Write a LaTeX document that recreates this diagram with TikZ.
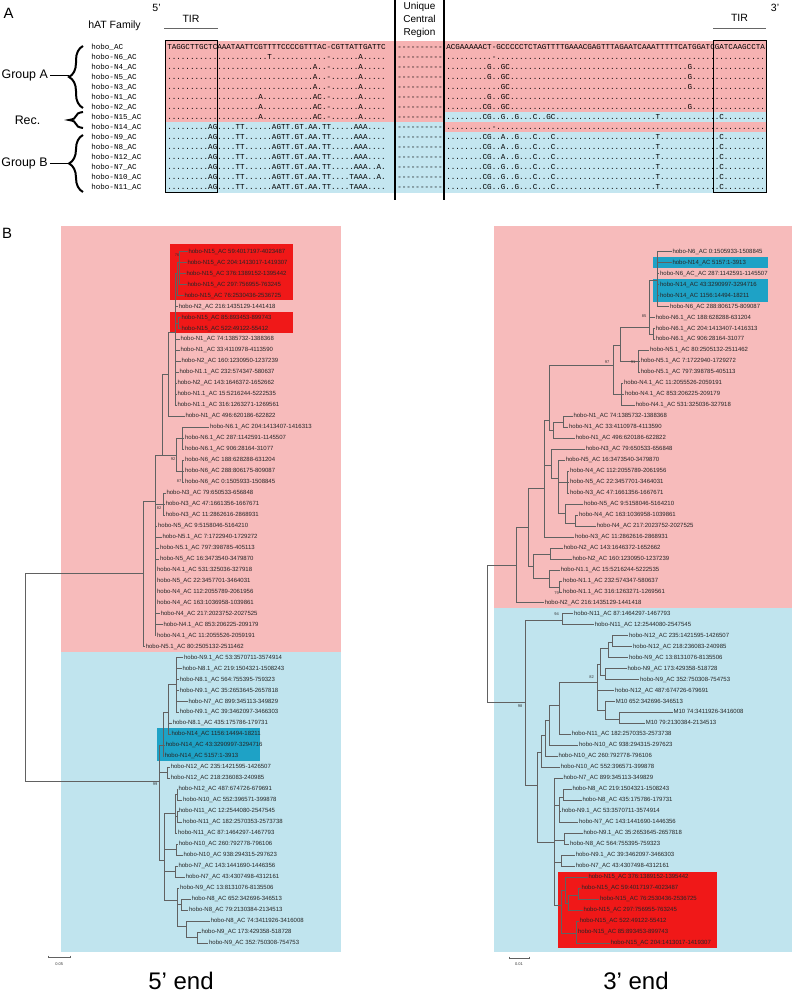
\documentclass[tikz,border=0pt]{standalone}
\usepackage{fontspec}
\setmainfont{Liberation Sans}
\setmonofont{Liberation Mono}
\usetikzlibrary{decorations.pathreplacing}
\ExplSyntaxOn
\cs_new:Npn \Dd #1 {\prg_replicate:nn{#1}{.}}
\cs_new:Npn \Dh #1 {\prg_replicate:nn{#1}{-{}}}
\ExplSyntaxOff
\definecolor{pinkA}{RGB}{246,178,178}
\definecolor{blueA}{RGB}{196,230,240}
\definecolor{pinkB}{RGB}{247,187,187}
\definecolor{blueB}{RGB}{192,228,238}
\definecolor{redhl}{RGB}{240,24,24}
\definecolor{bluehl}{RGB}{30,162,198}
\newcommand\seqf{\ttfamily\fontsize{5.69pt}{6pt}\selectfont}
\newcommand\tlf{\fontsize{4.5pt}{5pt}\selectfont}
\tikzset{
 sq/.style={anchor=base west, inner sep=0pt, font=\seqf},
 tl/.style={anchor=west, inner sep=0.4pt, font=\tlf, text=black!85, text height=3.2pt, text depth=0.9pt},
 br/.style={draw=black!62, line width=0.4pt},
 bs/.style={font=\fontsize{3pt}{3pt}\selectfont, inner sep=0pt, text=black!80},
 brc/.style={decorate, decoration={brace, amplitude=10.5pt}, line width=1.5pt},
 grp/.style={font=\fontsize{9.3pt}{11pt}\selectfont, inner sep=0pt},
 hd/.style={font=\fontsize{7.9pt}{9pt}\selectfont, inner sep=0pt},
 ttl/.style={font=\fontsize{18pt}{19pt}\selectfont, inner sep=0pt},
}
\newcommand\arow[4]{%
 \node[sq] (an#1) at (91,{50+10*#1}) {#2};
 \node[sq] (al#1) at (167,{50+10*#1}) {#3};
 \node[sq] (ac#1) at (397,{50+10*#1}) {\Dh{10}};
 \node[sq] (ar#1) at (446,{50+10*#1}) {#4};}
\newcommand\lf[5]{\coordinate (#1) at (#3,{251.7+10.97*#4}); \node[tl] (#1t) at (#1) {#5}; \draw[br] (#2) |- (#1);}
\newcommand\inn[4]{\coordinate (#1) at (#3,#4); \draw[br] (#2) |- (#1);}
\newcommand\LB{\Dd{9}AG\Dd{4}TT\Dd{6}AGTT.GT.AA.TT\Dd{5}AAA\Dd{4}}
\newcommand\RBa{\Dd{8}CG\Dd{2}A\Dd{2}G\Dd{3}C\Dd{3}C\Dd{22}T\Dd{13}C\Dd{9}}
\newcommand\RBb{\Dd{8}CG\Dd{2}G\Dd{2}G\Dd{3}C\Dd{3}C\Dd{22}T\Dd{13}C\Dd{9}}
\newcommand\LAa{\Dd{32}A\Dd{2}-\Dd{6}A\Dd{5}}
\newcommand\LAb{\Dd{20}A\Dd{11}AC\Dd{1}-\Dd{6}A\Dd{5}}
\begin{document}
\begin{tikzpicture}[x=0.75pt,y=-0.75pt]
\useasboundingbox (0,0) rectangle (792,994);
% ---------------- Panel A ----------------
\fill[pinkA] (165,41) rectangle (444,122.5);
\fill[blueA] (165,122.5) rectangle (444,193);
\fill[pinkA] (444,41) rectangle (766,112.5);
\fill[blueA] (444,112.5) rectangle (766,122.5);
\fill[pinkA] (444,122.5) rectangle (766,132.5);
\fill[blueA] (444,132.5) rectangle (766,193);

\arow{0}{hobo\_AC}{TAGGCTTGCTCAAATAATTCGTTTTCCCCGTTTAC-CGTTATTGATTC}{ACGAAAAACT-GCCCCCTCTAGTTTTGAAACGAGTTTAGAATCAAATTTTTCATGGATCGATCAAGCCTA}
\arow{1}{hobo-N6\_AC}{\Dd{22}T\Dd{12}-\Dd{6}A\Dd{5}}{\Dd{10}-\Dd{59}}
\arow{2}{hobo-N4\_AC}{\LAa}{\Dd{9}G\Dd{2}GC\Dd{39}G\Dd{16}}
\arow{3}{hobo-N5\_AC}{\LAa}{\Dd{9}G\Dd{2}GC\Dd{39}G\Dd{16}}
\arow{4}{hobo-N3\_AC}{\LAa}{\Dd{12}GC\Dd{39}G\Dd{16}}
\arow{5}{hobo-N1\_AC}{\LAb}{\Dd{9}G\Dd{2}GC\Dd{56}}
\arow{6}{hobo-N2\_AC}{\LAb}{\Dd{8}CG\Dd{2}GC\Dd{39}G\Dd{16}}
\arow{7}{hobo-N15\_AC}{\LAb}{\Dd{8}CG\Dd{2}G\Dd{2}G\Dd{3}C\Dd{2}GC\Dd{22}T\Dd{13}C\Dd{9}}
\arow{8}{hobo-N14\_AC}{\LB}{\Dd{10}-\Dd{59}}
\arow{9}{hobo-N9\_AC}{\LB}{\RBa}
\arow{10}{hobo-N8\_AC}{\LB}{\RBa}
\arow{11}{hobo-N12\_AC}{\LB}{\RBa}
\arow{12}{hobo-N7\_AC}{\Dd{9}AG\Dd{4}TT\Dd{6}AGTT.GT.AA.TT\Dd{5}AAA\Dd{2}A.}{\RBb}
\arow{13}{hobo-N10\_AC}{\Dd{9}AG\Dd{4}TT\Dd{6}AGTT.GT.AA.TT\Dd{4}TAAA\Dd{2}A.}{\RBb}
\arow{14}{hobo-N11\_AC}{\Dd{9}AG\Dd{4}TT\Dd{6}AATT.GT.AA.TT\Dd{4}TAAA\Dd{4}}{\RBb}

\draw[line width=0.75pt] (165,41) rectangle (217.5,193);
\draw[line width=0.75pt] (713,41) rectangle (766,193);
\draw[line width=0.9pt] (395,0) -- (395,200);
\draw[line width=0.9pt] (444,0) -- (444,200);

\node[font=\fontsize{11.2pt}{12pt}\selectfont, inner sep=0pt] (pA) at (8.5,13) {A};
\node[hd] (p5) at (156.5,8) {5'};
\node[hd] (p3) at (775,8) {3'};
\node[hd] (haf) at (114.5,26) {hAT Family};
\node[hd] (tirl) at (191,18.5) {TIR};
\node[hd] (tirr) at (739.5,18) {TIR};
\draw[black!60, line width=0.8pt] (164,28.5) -- (218,28.5);
\draw[black!60, line width=0.8pt] (713,28.5) -- (766,28.5);
\node[align=center, font=\fontsize{7.5pt}{9.75pt}\selectfont, inner sep=0pt] (ucr) at (419.5,20) {Unique\\Central\\Region};

\node[grp] (gA) at (24.7,75.5) {Group A};
\node[grp] (gR) at (27.5,120.5) {Rec.};
\node[grp] (gB) at (24.5,163.5) {Group B};
\draw[brc] (83,108) -- (83,46);
\draw[brc] (83,128) -- (83,112);
\draw[brc] (83,192) -- (83,135);
\coordinate (tA) at (68.5,77); \coordinate (tB) at (68.5,163.5);
\draw[line width=1.3pt] (gA.east) ++(2,0) -- (tA |- gA.east);
\draw[line width=1.3pt] (gB.east) ++(2,0) -- (tB |- gB.east);

% ---------------- Panel B ----------------
\node[font=\fontsize{11.2pt}{12pt}\selectfont, inner sep=0pt] (pB) at (7,233) {B};
\fill[pinkB] (61,226) rectangle (341,652);
\fill[blueB] (61,652) rectangle (341,952);
\fill[pinkB] (494,226) rectangle (792,608.2);
\fill[blueB] (494,608.2) rectangle (792,952);
\fill[redhl] (170,244) rectangle (293,300);
\fill[redhl] (170,312) rectangle (293,333.5);
\fill[bluehl] (157,728) rectangle (260,761);
\fill[bluehl] (653,257) rectangle (768,268.5);
\fill[bluehl] (653,279) rectangle (768,302);
\fill[redhl] (558.3,872) rectangle (716.7,948);

% ----- left tree (5' end)
\coordinate (lRoot) at (25.7,677);
\inn{lP}{lRoot}{143}{573}
\inn{lQ}{lRoot}{159}{781}
\inn{lA}{lP}{155}{501}
\inn{lB}{lA}{162}{455}
\inn{lE}{lB}{176}{455}
\inn{lE1}{lE}{182.5}{438}
\inn{lE2}{lE}{182}{471}
\inn{lN3}{lA}{163}{504}
\inn{lC}{lB}{168}{374}
\inn{lF}{lC}{175}{332}
\inn{lR}{lF}{177}{273}
\inn{lR1}{lR}{179.5}{262}
\inn{lR2}{lF}{178}{323}
\inn{lS1}{lQ}{163}{745}
\inn{lU}{lS1}{168}{712}
\inn{lU1}{lU}{176}{684}
\inn{lV}{lQ}{167}{772}
\inn{lS2}{lQ}{164}{860}
\inn{lW}{lS2}{175}{813}
\inn{lW1}{lW}{177}{794}
\inn{lW2}{lW}{177.5}{816}
\inn{lX}{lS2}{176}{849}
\inn{lY}{lS2}{175.5}{871}
\inn{lZ}{lS2}{177.5}{900}
\inn{lZ1}{lZ}{181.5}{904}
\inn{lZ2}{lZ}{186}{926}
\inn{lZ3}{lZ2}{197}{937}

\lf{lL0}{lR1}{187.7}{0}{hobo-N15\_AC 59:4017197-4023487}
\lf{lL1}{lR1}{186.7}{1}{hobo-N15\_AC 204:1413017-1419307}
\lf{lL2}{lR1}{185.7}{2}{hobo-N15\_AC 376:1389152-1395442}
\lf{lL3}{lR1}{186.7}{3}{hobo-N15\_AC 297:756955-763245}
\lf{lL4}{lR}{183.7}{4}{hobo-N15\_AC 76:2530436-2536725}
\lf{lL5}{lF}{178}{5}{hobo-N2\_AC 216:1435129-1441418}
\lf{lL6}{lR2}{180.7}{6}{hobo-N15\_AC 85:893453-899743}
\lf{lL7}{lR2}{180.7}{7}{hobo-N15\_AC 522:49122-55412}
\lf{lL8}{lF}{179.7}{8}{hobo-N1\_AC 74:1385732-1388368}
\lf{lL9}{lF}{179.7}{9}{hobo-N1\_AC 33:4110978-4113590}
\lf{lL10}{lF}{180.7}{10}{hobo-N2\_AC 160:1230950-1237239}
\lf{lL11}{lF}{178.7}{11}{hobo-N1.1\_AC 232:574347-580637}
\lf{lL12}{lF}{176.7}{12}{hobo-N2\_AC 143:1646372-1652662}
\lf{lL13}{lF}{176.7}{13}{hobo-N1.1\_AC 15:5216244-5222535}
\lf{lL14}{lF}{176.7}{14}{hobo-N1.1\_AC 316:1263271-1269561}
\lf{lL15}{lC}{184.7}{15}{hobo-N1\_AC 496:620186-622822}
\lf{lL16}{lE1}{209.3}{16}{hobo-N6.1\_AC 204:1413407-1416313}
\lf{lL17}{lE1}{184.3}{17}{hobo-N6.1\_AC 287:1142591-1145507}
\lf{lL18}{lE1}{184.3}{18}{hobo-N6.1\_AC 906:28164-31077}
\lf{lL19}{lE2}{184.3}{19}{hobo-N6\_AC 188:628288-631204}
\lf{lL20}{lE2}{184.3}{20}{hobo-N6\_AC 288:806175-809087}
\lf{lL21}{lE2}{184.3}{21}{hobo-N6\_AC 0:1505933-1508845}
\lf{lL22}{lN3}{165.7}{22}{hobo-N3\_AC 79:650533-656848}
\lf{lL23}{lN3}{165}{23}{hobo-N3\_AC 47:1661356-1667671}
\lf{lL24}{lN3}{165}{24}{hobo-N3\_AC 11:2862616-2868931}
\lf{lL25}{lA}{157.3}{25}{hobo-N5\_AC 9:5158046-5164210}
\lf{lL26}{lA}{161.7}{26}{hobo-N5.1\_AC 7:1722940-1729272}
\lf{lL27}{lA}{159.3}{27}{hobo-N5.1\_AC 797:398785-405113}
\lf{lL28}{lA}{159.3}{28}{hobo-N5\_AC 16:3473540-3479870}
\lf{lL29}{lA}{156.3}{29}{hobo-N4.1\_AC 531:325036-327918}
\lf{lL30}{lA}{156.3}{30}{hobo-N5\_AC 22:3457701-3464031}
\lf{lL31}{lA}{156.3}{31}{hobo-N4\_AC 112:2055789-2061956}
\lf{lL32}{lA}{156.3}{32}{hobo-N4\_AC 163:1036958-1039861}
\lf{lL33}{lA}{160}{33}{hobo-N4\_AC 217:2023752-2027525}
\lf{lL34}{lA}{162.7}{34}{hobo-N4.1\_AC 853:206225-209179}
\lf{lL35}{lA}{156.3}{35}{hobo-N4.1\_AC 11:2055526-2059191}
\lf{lL36}{lP}{145}{36}{hobo-N5.1\_AC 80:2505132-2511462}
\lf{lL37}{lU1}{183.3}{37}{hobo-N9.1\_AC 53:3570711-3574914}
\lf{lL38}{lU1}{181.7}{38}{hobo-N8.1\_AC 219:1504321-1508243}
\lf{lL39}{lU1}{179}{39}{hobo-N8.1\_AC 564:755395-759323}
\lf{lL40}{lU1}{179}{40}{hobo-N9.1\_AC 35:2653645-2657818}
\lf{lL41}{lU1}{187.7}{41}{hobo-N7\_AC 899:345113-349829}
\lf{lL42}{lU1}{179}{42}{hobo-N9.1\_AC 39:3462097-3466303}
\lf{lL43}{lU}{172}{43}{hobo-N8.1\_AC 435:175786-179731}
\lf{lL44}{lU}{170.7}{44}{hobo-N14\_AC 1156:14494-18211}
\lf{lL45}{lS1}{165}{45}{hobo-N14\_AC 43:3290997-3294716}
\lf{lL46}{lS1}{164}{46}{hobo-N14\_AC 5157:1-3913}
\lf{lL47}{lV}{170}{47}{hobo-N12\_AC 235:1421595-1426507}
\lf{lL48}{lV}{170}{48}{hobo-N12\_AC 218:236083-240985}
\lf{lL49}{lW1}{177.7}{49}{hobo-N12\_AC 487:674726-679691}
\lf{lL50}{lW1}{182.3}{50}{hobo-N10\_AC 552:396571-399878}
\lf{lL51}{lW2}{178}{51}{hobo-N11\_AC 12:2544080-2547545}
\lf{lL52}{lW2}{182.3}{52}{hobo-N11\_AC 182:2570353-2573738}
\lf{lL53}{lW}{177.3}{53}{hobo-N11\_AC 87:1464297-1467793}
\lf{lL54}{lX}{178}{54}{hobo-N10\_AC 260:792778-796106}
\lf{lL55}{lX}{182.7}{55}{hobo-N10\_AC 938:294315-297623}
\lf{lL56}{lY}{177.7}{56}{hobo-N7\_AC 143:1441690-1446356}
\lf{lL57}{lY}{185}{57}{hobo-N7\_AC 43:4307498-4312161}
\lf{lL58}{lZ}{179.3}{58}{hobo-N9\_AC 13:8131076-8135506}
\lf{lL59}{lZ1}{191}{59}{hobo-N8\_AC 652:342696-346513}
\lf{lL60}{lZ1}{188.3}{60}{hobo-N8\_AC 79:2130384-2134513}
\lf{lL61}{lZ2}{210}{61}{hobo-N8\_AC 74:3411926-3416008}
\lf{lL62}{lZ3}{200.7}{62}{hobo-N9\_AC 173:429358-518728}
\lf{lL63}{lZ3}{208.3}{63}{hobo-N9\_AC 352:750308-754753}

\node[bs] (lb76) at (177,255) {76};
\node[bs] (lb92) at (173,459) {92};
\node[bs] (lb87) at (179,481) {87};
\node[bs] (lb82) at (159,508) {82};
\node[bs] (lb99) at (155,784) {99};

% ----- right tree (3' end)
\coordinate (rRoot) at (487,633);
\inn{rPA}{rRoot}{516}{565}
\inn{rBA}{rRoot}{525.7}{702}
\inn{rPB}{rPA}{528}{527}
\inn{rPC}{rPB}{544}{488}
\inn{rPD}{rPB}{533}{566}
\inn{rPG}{rPC}{549}{420}
\inn{rN1b}{rPG}{553}{430}
\inn{rN1n}{rN1b}{563}{422}
\inn{rPE}{rPG}{613}{365}
\inn{rPF}{rPE}{620.7}{345}
\inn{rH85}{rPF}{649}{327}
\inn{rN6}{rH85}{657.7}{280}
\inn{rN61}{rH85}{653}{334}
\inn{rN51}{rPF}{638}{361.5}
\inn{rN41}{rPE}{621.7}{394}
\inn{rQ1}{rPC}{551.7}{465}
\inn{rQ2}{rQ1}{558}{478}
\inn{rQ3}{rQ2}{567.7}{482.5}
\inn{rQ4}{rQ2}{565}{513}
\inn{rQ5}{rQ4}{575}{523}
\inn{rN2p}{rPD}{550.7}{554}
\inn{rN11n}{rPD}{549}{578.5}
\inn{rN11b}{rN11n}{559}{587}
\inn{rN11pr}{rBA}{562}{620}
\inn{rBB}{rBA}{537}{785}
\inn{rBC}{rBB}{541.7}{752}
\inn{rC9}{rBC}{545}{735}
\inn{rC8}{rC9}{549}{720}
\inn{rC7}{rC8}{559.3}{705}
\inn{rC82}{rC7}{597.3}{682}
\inn{rC4}{rC82}{600.5}{664}
\inn{rC2}{rC4}{608}{648}
\inn{rC1}{rC2}{612}{642}
\inn{rC3}{rC4}{605}{675}
\inn{rC5}{rC82}{605}{710}
\inn{rC6}{rC5}{619}{719}
\inn{rBD}{rBB}{554}{842}
\inn{rD1}{rBD}{559.3}{805}
\inn{rD1a}{rD1}{563}{797}
\inn{rD2}{rBD}{564}{840}
\inn{rD3}{rBD}{561.7}{862}
\inn{rE5}{rBD}{561}{905}
\inn{rE3}{rE5}{565}{890}
\inn{rE2}{rE3}{568.3}{903}
\inn{rE1}{rE2}{578.3}{895}
\inn{rE4}{rE5}{576}{933}

\lf{rL0}{rN6}{671.7}{0}{hobo-N6\_AC 0:1505933-1508845}
\lf{rL1}{rN6}{671.7}{1}{hobo-N14\_AC 5157:1-3913}
\lf{rL2}{rN6}{659.3}{2}{hobo-N6\_AC\_AC 287:1142591-1145507}
\lf{rL3}{rN6}{659.3}{3}{hobo-N14\_AC 43:3290997-3294716}
\lf{rL4}{rN6}{659.3}{4}{hobo-N14\_AC 1156:14494-18211}
\lf{rL5}{rN6}{669.3}{5}{hobo-N6\_AC 288:806175-809087}
\lf{rL6}{rH85}{655}{6}{hobo-N6.1\_AC 188:628288-631204}
\lf{rL7}{rN61}{655}{7}{hobo-N6.1\_AC 204:1413407-1416313}
\lf{rL8}{rN61}{655}{8}{hobo-N6.1\_AC 906:28164-31077}
\lf{rL9}{rN51}{649.3}{9}{hobo-N5.1\_AC 80:2505132-2511462}
\lf{rL10}{rN51}{640}{10}{hobo-N5.1\_AC 7:1722940-1729272}
\lf{rL11}{rN51}{640}{11}{hobo-N5.1\_AC 797:398785-405113}
\lf{rL12}{rN41}{623.3}{12}{hobo-N4.1\_AC 11:2055526-2059191}
\lf{rL13}{rN41}{624.3}{13}{hobo-N4.1\_AC 853:206225-209179}
\lf{rL14}{rN41}{635}{14}{hobo-N4.1\_AC 531:325036-327918}
\lf{rL15}{rN1n}{572.7}{15}{hobo-N1\_AC 74:1385732-1388368}
\lf{rL16}{rN1n}{568.3}{16}{hobo-N1\_AC 33:4110978-4113590}
\lf{rL17}{rN1b}{575}{17}{hobo-N1\_AC 496:620186-622822}
\lf{rL18}{rQ1}{585}{18}{hobo-N3\_AC 79:650533-656848}
\lf{rL19}{rQ2}{565}{19}{hobo-N5\_AC 16:3473540-3479870}
\lf{rL20}{rQ3}{569.3}{20}{hobo-N4\_AC 112:2055789-2061956}
\lf{rL21}{rQ3}{569.3}{21}{hobo-N5\_AC 22:3457701-3464031}
\lf{rL22}{rQ3}{569.3}{22}{hobo-N3\_AC 47:1661356-1667671}
\lf{rL23}{rQ4}{583.3}{23}{hobo-N5\_AC 9:5158046-5164210}
\lf{rL24}{rQ5}{578.3}{24}{hobo-N4\_AC 163:1036958-1039861}
\lf{rL25}{rQ5}{596}{25}{hobo-N4\_AC 217:2023752-2027525}
\lf{rL26}{rPC}{574.3}{26}{hobo-N3\_AC 11:2862616-2868931}
\lf{rL27}{rN2p}{563}{27}{hobo-N2\_AC 143:1646372-1652662}
\lf{rL28}{rN2p}{571.7}{28}{hobo-N2\_AC 160:1230950-1237239}
\lf{rL29}{rN11n}{560}{29}{hobo-N1.1\_AC 15:5216244-5222535}
\lf{rL30}{rN11b}{562.3}{30}{hobo-N1.1\_AC 232:574347-580637}
\lf{rL31}{rN11b}{562.3}{31}{hobo-N1.1\_AC 316:1263271-1269561}
\lf{rL32}{rPA}{544}{32}{hobo-N2\_AC 216:1435129-1441418}
\lf{rL33}{rN11pr}{573.3}{33}{hobo-N11\_AC 87:1464297-1467793}
\lf{rL34}{rN11pr}{594}{34}{hobo-N11\_AC 12:2544080-2547545}
\lf{rL35}{rC1}{628.3}{35}{hobo-N12\_AC 235:1421595-1426507}
\lf{rL36}{rC1}{632.3}{36}{hobo-N12\_AC 218:236083-240985}
\lf{rL37}{rC2}{628.3}{37}{hobo-N9\_AC 13:8131076-8135506}
\lf{rL38}{rC3}{626.7}{38}{hobo-N9\_AC 173:429358-518728}
\lf{rL39}{rC3}{639.3}{39}{hobo-N9\_AC 352:750308-754753}
\lf{rL40}{rC82}{614.3}{40}{hobo-N12\_AC 487:674726-679691}
\lf{rL41}{rC5}{615}{41}{M10 652:342696-346513}
\lf{rL42}{rC6}{672.7}{42}{M10 74:3411926-3416008}
\lf{rL43}{rC6}{645}{43}{M10 79:2130384-2134513}
\lf{rL44}{rC7}{571}{44}{hobo-N11\_AC 182:2570353-2573738}
\lf{rL45}{rC8}{578.3}{45}{hobo-N10\_AC 938:294315-297623}
\lf{rL46}{rC9}{557.7}{46}{hobo-N10\_AC 260:792778-796106}
\lf{rL47}{rBC}{560}{47}{hobo-N10\_AC 552:396571-399878}
\lf{rL48}{rBD}{562.7}{48}{hobo-N7\_AC 899:345113-349829}
\lf{rL49}{rD1a}{571.7}{49}{hobo-N8\_AC 219:1504321-1508243}
\lf{rL50}{rD1a}{581.7}{50}{hobo-N8\_AC 435:175786-179731}
\lf{rL51}{rD1}{561}{51}{hobo-N9.1\_AC 53:3570711-3574914}
\lf{rL52}{rD1}{578.3}{52}{hobo-N7\_AC 143:1441690-1446356}
\lf{rL53}{rD2}{582.7}{53}{hobo-N9.1\_AC 35:2653645-2657818}
\lf{rL54}{rD2}{569.3}{54}{hobo-N8\_AC 564:755395-759323}
\lf{rL55}{rD3}{575}{55}{hobo-N9.1\_AC 39:3462097-3466303}
\lf{rL56}{rD3}{575}{56}{hobo-N7\_AC 43:4307498-4312161}
\lf{rL57}{rE3}{587.7}{57}{hobo-N15\_AC 376:1389152-1395442}
\lf{rL58}{rE1}{580.7}{58}{hobo-N15\_AC 59:4017197-4023487}
\lf{rL59}{rE1}{599.3}{59}{hobo-N15\_AC 76:2530436-2536725}
\lf{rL60}{rE2}{582.7}{60}{hobo-N15\_AC 297:756955-763245}
\lf{rL61}{rE4}{579}{61}{hobo-N15\_AC 522:49122-55412}
\lf{rL62}{rE4}{577.3}{62}{hobo-N15\_AC 85:893453-899743}
\lf{rL63}{rE4}{610}{63}{hobo-N15\_AC 204:1413017-1419307}

\node[bs] (rb85) at (644,316) {85};
\node[bs] (rb97) at (607,362) {97};
\node[bs] (rb91) at (633,362) {91};
\node[bs] (rb79) at (556.7,593) {79};
\node[bs] (rb94) at (556.7,614) {94};
\node[bs] (rb82) at (591.7,677) {82};
\node[bs] (rb98) at (520,706) {98};

% scale bars
\coordinate (sa1) at (48.5,957); \coordinate (sa2) at (70,957);
\draw[br] (sa1) -- (sa2);
\draw[br] (48.5,955.6) -- (48.5,958.4); \draw[br] (70,955.6) -- (70,958.4);
\node[bs] (sal) at (59.3,964) {0.05};
\coordinate (sb1) at (509,958); \coordinate (sb2) at (529,958);
\draw[br] (sb1) -- (sb2);
\draw[br] (509,956.6) -- (509,959.4); \draw[br] (529,956.6) -- (529,959.4);
\node[bs] (sbl) at (519,964.5) {0.01};

\node[ttl] (t5) at (181,980.5) {5’ end};
\node[ttl] (t3) at (636,980.5) {3’ end};
\end{tikzpicture}
\end{document}
